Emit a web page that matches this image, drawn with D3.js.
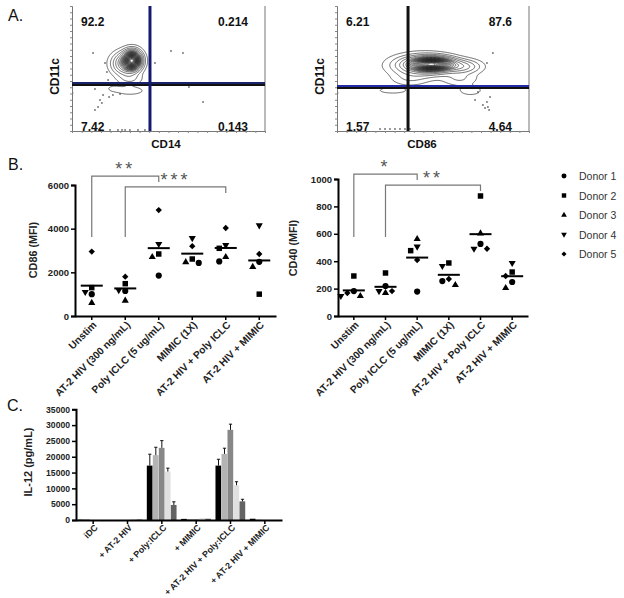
<!DOCTYPE html>
<html><head><meta charset="utf-8">
<script src="https://cdn.jsdelivr.net/npm/d3@7"></script>
<style>
body{margin:0;background:#fff}
svg{display:block}
text{font-family:"Liberation Sans",Arial,sans-serif}
</style>
</head><body>
<svg id="c" width="624" height="598"></svg>
<script>
// ---------------- DATA ----------------
const donors = ["Donor 1", "Donor 2", "Donor 3", "Donor 4", "Donor 5"];

// Panel A (flow cytometry, channel units 0-1000)
const flowLeftQuadrants = ["92.2", "0.214", "7.42", "0.143"]; // UL, UR, LL, LR
const flowLeftGate = [404, 376];
// gaussian population components: [cx, cy, sdx, sdy, weight]
const flowLeftPopulations = [
  [312, 565, 26, 42, 1],
  [275, 540, 38, 50, 0.25],
  [300, 420, 38, 32, 0.04],
  [300, 322, 45, 20, 0.03],
  [215, 340, 28, 20, 0.015]
];
const flowLeftEvents = [
  [109,624],[171,544],[181,472],[187,408],[119,336],[161,288],[145,248],[192,272],
  [135,192],[155,224],[119,168],[212,288],[249,296],[430,544],[513,640],[575,624],
  [606,352],[679,232],[119,8],[145,8],[197,8],[238,8],[259,8],[275,8],[300,8],[342,8],[378,8],[3,304]
];
const flowRightQuadrants = ["6.21", "87.6", "1.57", "4.64"];
const flowRightGate = [370, 352];
const flowRightPopulations = [
  [497, 535, 62, 30, 1],
  [450, 525, 85, 46, 0.3],
  [650, 515, 55, 32, 0.15],
  [640, 420, 55, 35, 0.04],
  [695, 325, 38, 25, 0.03],
  [380, 420, 60, 35, 0.035],
  [290, 325, 55, 18, 0.025]
];
const flowRightEvents = [
  [812,624],[781,544],[797,272],[781,232],[760,208],[786,192],[771,184],[792,168],
  [734,312],[719,248],[224,16],[250,16],[276,16],[302,16],[328,16],[354,16],[380,16],[3,304]
];

// Panel B
const stimCategories = ["Unstim", "AT-2 HIV (300 ng/mL)", "Poly ICLC (5 ug/mL)", "MIMIC (1X)", "AT-2 HIV + Poly ICLC", "AT-2 HIV + MIMIC"];
// rows = categories, columns = Donor 1..5
const cd86Values = [
  [1000, 1300, 600, 1100, 2950],
  [1145, 1480, 700, 1190, 1800],
  [1850, 2840, 2700, 3300, 4850],
  [2430, 2610, 2470, 3570, 3200],
  [2500, 3100, 2700, 3250, 4030],
  [2480, 1000, 2250, 4150, 2840]
];
const cd40Values = [
  [182, 292, 146, 146, 168],
  [219, 314, 168, 182, 182],
  [178, 477, 562, 506, 409],
  [255, 387, 226, 365, 270],
  [526, 876, 603, 491, 491],
  [248, 321, 204, 387, 292]
];
const cd86Ticks = [0, 2000, 4000, 6000];
const cd40Ticks = [0, 200, 400, 600, 800, 1000];
// significance brackets: [fromIndex, toIndex, label, top, leftLegEnd, rightLegEnd] (value units)
const cd86Brackets = [[0, 2, "**", 6410, 3620, 6140], [1, 4, "***", 5910, 3620, 5630]];
const cd40Brackets = [[0, 2, "*", 1036, 577, 993], [1, 4, "**", 956, 577, 912]];

// Panel C
const il12Categories = ["iDC", "+ AT-2 HIV", "+ Poly:ICLC", "+ MIMIC", "+ AT-2 HIV + Poly:ICLC", "+ AT-2 HIV + MIMIC"];
const il12Means = [
  [100, 250, 0, 0, 0],
  [0, 0, 0, 250, 150],
  [17200, 20500, 22800, 15300, 4750],
  [350, 300, 200, 600, 400],
  [17200, 20900, 28500, 11000, 5900],
  [400, 100, 0, 0, 0]
];
const il12Errors = [
  [0, 0, 0, 0, 0],
  [0, 0, 0, 0, 0],
  [3600, 2500, 2300, 1100, 1000],
  [0, 0, 0, 0, 0],
  [2000, 1800, 1800, 1100, 650],
  [0, 0, 0, 0, 0]
];
const il12Ticks = [0, 5000, 10000, 15000, 20000, 25000, 30000, 35000];

// ---------------- STYLE ----------------
const donorSymbols = ["circle", "square", "triangle", "inv", "diamond"];
const donorSizes = [30, 30, 22, 22, 20];
const barColors = ["#000000", "#b4b4b4", "#878787", "#e0e0e0", "#636363"];

const svg = d3.select("#c");

// Panel letters
[["A.", 8, 21], ["B.", 8, 170], ["C.", 7, 411]].forEach(([t, x, y]) =>
  svg.append("text").attr("x", x).attr("y", y).attr("font-size", 16).attr("fill", "#111").text(t));

// ---------------- PANEL A ----------------
const contourLevels = [0.01, 0.03, 0.06, 0.1, 0.15].concat(d3.range(0.2, 0.985, 0.04));

function flowPlot(o) {
  const g = svg.append("g");
  const xs = d3.scaleLinear().domain([0, 1000]).range([o.x0, o.x1]);
  const ys = d3.scaleLinear().domain([0, 1000]).range([o.y1, o.y0]);
  const id = "clip" + o.x0;
  svg.append("clipPath").attr("id", id).append("rect")
    .attr("x", o.x0).attr("y", o.y0).attr("width", o.x1 - o.x0).attr("height", o.y1 - o.y0);

  const n = 240, m = 240;
  const vals = new Float64Array(n * m);
  for (let j = 0; j < m; j++) {
    const yv = 1000 - (j + 0.5) * 1000 / m;
    for (let i = 0; i < n; i++) {
      const xv = (i + 0.5) * 1000 / n;
      let s = 0;
      for (const c of o.pops) {
        const dx = (xv - c[0]) / c[2], dy = (yv - c[1]) / c[3];
        s += c[4] * Math.exp(-0.5 * (dx * dx + dy * dy));
      }
      vals[j * n + i] = s;
    }
  }
  const mx = d3.max(vals);
  const contours = d3.contours().size([n, m]).thresholds(contourLevels.map(l => l * mx))(vals);
  const proj = d3.geoTransform({ point(px, py) { this.stream.point(xs(px * 1000 / n), ys(1000 - py * 1000 / m)); } });
  const path = d3.geoPath(proj);
  const cg = g.append("g").attr("clip-path", `url(#${id})`);
  cg.selectAll("path").data(contours).join("path")
    .attr("d", path).attr("fill", "none").attr("stroke", "#1a1a1a").attr("stroke-width", 0.65);
  cg.selectAll("rect.ev").data(o.events).join("rect")
    .attr("x", d => xs(d[0]) - 0.7).attr("y", d => ys(d[1]) - 0.7)
    .attr("width", 1.4).attr("height", 1.4).attr("fill", "#333");

  // axes frame
  const ax = g.append("g").attr("transform", `translate(${o.x0},0)`)
    .call(d3.axisLeft(ys).ticks(30).tickSize(2).tickFormat(""));
  ax.select(".domain").attr("stroke", "#777");
  ax.selectAll(".tick line").attr("stroke", "#888");
  const bx = g.append("g").attr("transform", `translate(0,${o.y1})`)
    .call(d3.axisBottom(xs).ticks(30).tickSize(2).tickFormat(""));
  bx.select(".domain").attr("stroke", "#777");
  bx.selectAll(".tick line").attr("stroke", "#888");
  g.append("line").attr("x1", o.x1).attr("x2", o.x1).attr("y1", o.y0).attr("y2", o.y1)
    .attr("stroke", "#777").attr("stroke-width", 1);

  // gates
  const gx = xs(o.gate[0]), gy = ys(o.gate[1]);
  g.append("line").attr("x1", o.x0).attr("x2", o.x1).attr("y1", gy).attr("y2", gy)
    .attr("stroke", "#111").attr("stroke-width", 4);
  g.append("line").attr("x1", o.x0).attr("x2", o.x1).attr("y1", gy - 1).attr("y2", gy - 1)
    .attr("stroke", o.hColor).attr("stroke-width", 1.6);
  g.append("line").attr("x1", gx).attr("x2", gx).attr("y1", o.y0).attr("y2", o.y1)
    .attr("stroke", o.vColor).attr("stroke-width", 3);

  // quadrant labels
  const q = o.quads;
  const lab = (t, x, y, anchor) => g.append("text").attr("x", x).attr("y", y)
    .attr("text-anchor", anchor).attr("font-size", 12).attr("font-weight", "bold").attr("fill", "#111").text(t);
  lab(q[0], o.x0 + 9, o.y0 + 20, "start");
  lab(q[1], o.x1 - 17, o.y0 + 20, "end");
  lab(q[2], o.x0 + 9, o.y1 - 0.5, "start");
  lab(q[3], o.x1 - 17, o.y1 - 0.5, "end");

  g.append("text").attr("transform", `translate(${o.yLabelX},${(o.y0 + o.y1) / 2 + 8}) rotate(-90)`)
    .attr("text-anchor", "middle").attr("font-size", 12).attr("font-weight", "bold").attr("fill", "#111").text(o.yLabel);
  g.append("text").attr("x", o.xLabelX).attr("y", o.y1 + 17)
    .attr("text-anchor", "middle").attr("font-size", 11.5).attr("font-weight", "bold").attr("fill", "#111").text(o.xLabel);
}

flowPlot({ x0: 72, x1: 265, y0: 6, y1: 131, pops: flowLeftPopulations, events: flowLeftEvents,
  gate: flowLeftGate, quads: flowLeftQuadrants, xLabel: "CD14", yLabel: "CD11c",
  hColor: "#1f2a8a", vColor: "#151a70", yLabelX: 59, xLabelX: 166 });
flowPlot({ x0: 337, x1: 529, y0: 6, y1: 131, pops: flowRightPopulations, events: flowRightEvents,
  gate: flowRightGate, quads: flowRightQuadrants, xLabel: "CD86", yLabel: "CD11c",
  hColor: "#2b35d8", vColor: "#111", yLabelX: 324, xLabelX: 422 });

// ---------------- PANEL B ----------------
function symbolPath(k, size) {
  const t = donorSymbols[k];
  const type = t === "circle" ? d3.symbolCircle : (t === "triangle" || t === "inv") ? d3.symbolTriangle : d3.symbolSquare;
  return d3.symbol(type, size)();
}
function symbolRot(k) {
  const t = donorSymbols[k];
  return t === "inv" ? " rotate(180)" : t === "diamond" ? " rotate(45)" : "";
}

function swarm(vals, cx, ys, r) {
  const placed = [], out = new Array(vals.length);
  const order = d3.range(vals.length).sort((a, b) => vals[b] - vals[a]);
  for (const k of order) {
    const y = ys(vals[k]);
    for (const off of [0, -r, r, -2 * r, 2 * r]) {
      if (placed.every(p => Math.hypot(p[0] - (cx + off), p[1] - y) >= r)) {
        placed.push([cx + off, y]); out[k] = [cx + off, y]; break;
      }
    }
  }
  return out;
}

function scatterPanel(o) {
  const g = svg.append("g");
  const x = d3.scaleBand().domain(stimCategories).range([o.x0, o.x1]);
  const y = d3.scaleLinear().domain([0, o.ticks[o.ticks.length - 1]]).range([316, o.yTop]);
  const cx = c => x(c) + x.bandwidth() / 2;

  // y axis
  const ya = g.append("g").attr("transform", `translate(${o.x0},0)`)
    .call(d3.axisLeft(y).tickValues(o.ticks).tickSize(4).tickPadding(2).tickFormat(d3.format("d")));
  ya.select(".domain").attr("stroke", "#000").attr("stroke-width", 2);
  ya.selectAll(".tick line").attr("stroke", "#000").attr("stroke-width", 1.5);
  ya.selectAll(".tick text").attr("font-size", 9.5).attr("font-weight", "bold").attr("fill", "#222")
    .attr("font-family", "Liberation Sans, Arial, sans-serif");
  // x axis
  const xa = g.append("g").attr("transform", `translate(0,316)`)
    .call(d3.axisBottom(x).tickSize(4).tickSizeOuter(0).tickFormat(""));
  xa.select(".domain").attr("stroke", "#000").attr("stroke-width", 2);
  xa.selectAll(".tick line").attr("stroke", "#000").attr("stroke-width", 1.5);
  g.selectAll("text.xl").data(stimCategories).join("text")
    .attr("transform", d => `translate(${cx(d) + 3},${323}) rotate(-45)`)
    .attr("text-anchor", "end").attr("dy", "0.35em")
    .attr("font-size", 10.2).attr("font-weight", "bold").attr("fill", "#222").text(d => d);
  g.append("text").attr("transform", `translate(${o.labelX},${o.labelY}) rotate(-90)`)
    .attr("text-anchor", "middle").attr("font-size", 10.8).attr("font-weight", "bold").attr("fill", "#222").text(o.label);

  // brackets
  o.brackets.forEach(b => {
    const xa1 = cx(stimCategories[b[0]]), xa2 = cx(stimCategories[b[1]]);
    g.append("path").attr("d", `M${xa1},${y(b[4])}V${y(b[3])}H${xa2}V${y(b[5])}`)
      .attr("fill", "none").attr("stroke", "#777").attr("stroke-width", 1.2);
    g.append("text").attr("x", (xa1 + xa2) / 2).attr("y", y(b[3]) - 1)
      .attr("text-anchor", "middle").attr("font-size", 18).attr("letter-spacing", 3)
      .attr("fill", "#555").text(b[2]);
  });

  // points + mean lines
  stimCategories.forEach((c, ci) => {
    const vals = o.values[ci];
    const pos = swarm(vals, cx(c), y, 6.5);
    vals.forEach((v, k) => {
      g.append("path").attr("d", symbolPath(k, donorSizes[k]))
        .attr("transform", `translate(${pos[k][0]},${pos[k][1]})${symbolRot(k)}`).attr("fill", "#000");
    });
    const mean = d3.mean(vals);
    g.append("line").attr("x1", cx(c) - 11).attr("x2", cx(c) + 11)
      .attr("y1", y(mean)).attr("y2", y(mean)).attr("stroke", "#000").attr("stroke-width", 2);
  });
}

scatterPanel({ x0: 75, x1: 276, yTop: 185, ticks: cd86Ticks, values: cd86Values, brackets: cd86Brackets,
  label: "CD86 (MFI)", labelX: 37, labelY: 250 });
scatterPanel({ x0: 338, x1: 528, yTop: 179, ticks: cd40Ticks, values: cd40Values, brackets: cd40Brackets,
  label: "CD40 (MFI)", labelX: 297, labelY: 248 });

// legend
const lg = svg.append("g");
donors.forEach((d, k) => {
  const yy = 176 + k * 19.5;
  lg.append("path").attr("d", symbolPath(k, donorSizes[k] * 0.65)).attr("transform", `translate(564,${yy})${symbolRot(k)}`).attr("fill", "#000");
  lg.append("text").attr("x", 579).attr("y", yy + 4).attr("font-size", 10.5).attr("fill", "#333").text(d);
});

// ---------------- PANEL C ----------------
{
  const g = svg.append("g");
  const x = d3.scaleBand().domain(il12Categories).range([76, 282]).paddingInner(0.125).paddingOuter(0.0625);
  const xi = d3.scaleBand().domain(d3.range(5)).range([0, x.bandwidth()]);
  const y = d3.scaleLinear().domain([0, 35000]).range([520, 409.3]);

  il12Categories.forEach((c, ci) => {
    il12Means[ci].forEach((v, k) => {
      const bx = x(c) + xi(k);
      g.append("rect").attr("x", bx).attr("width", xi.bandwidth() - 0.3)
        .attr("y", y(v)).attr("height", y(0) - y(v)).attr("fill", barColors[k]);
      const e = il12Errors[ci][k];
      if (e > 0) {
        const mx = bx + xi.bandwidth() / 2;
        g.append("path").attr("d", `M${mx},${y(v)}V${y(v + e)}M${mx - 1.6},${y(v + e)}H${mx + 1.6}`)
          .attr("stroke", "#111").attr("stroke-width", 1).attr("fill", "none");
      }
    });
  });

  const ya = g.append("g").attr("transform", `translate(76,0)`)
    .call(d3.axisLeft(y).tickValues(il12Ticks).tickSize(4).tickPadding(2).tickFormat(d3.format("d")));
  ya.select(".domain").attr("stroke", "#000").attr("stroke-width", 2);
  ya.selectAll(".tick line").attr("stroke", "#000").attr("stroke-width", 1.5);
  ya.selectAll(".tick text").attr("font-size", 8.6).attr("font-weight", "bold").attr("fill", "#222")
    .attr("font-family", "Liberation Sans, Arial, sans-serif");
  const xa = g.append("g").attr("transform", `translate(0,520)`)
    .call(d3.axisBottom(x).tickSize(4).tickSizeOuter(0).tickFormat(""));
  xa.select(".domain").attr("stroke", "#000").attr("stroke-width", 2);
  xa.selectAll(".tick line").attr("stroke", "#000").attr("stroke-width", 1.5);
  g.selectAll("text.xl").data(il12Categories).join("text")
    .attr("transform", d => `translate(${x(d) + x.bandwidth() / 2 + 3},${526}) rotate(-45)`)
    .attr("text-anchor", "end").attr("dy", "0.35em")
    .attr("font-size", 8.9).attr("font-weight", "bold").attr("fill", "#222").text(d => d);
  g.append("text").attr("transform", `translate(32,462) rotate(-90)`)
    .attr("text-anchor", "middle").attr("font-size", 11).attr("font-weight", "bold").attr("fill", "#222").text("IL-12 (pg/mL)");
}
</script>
</body></html>
